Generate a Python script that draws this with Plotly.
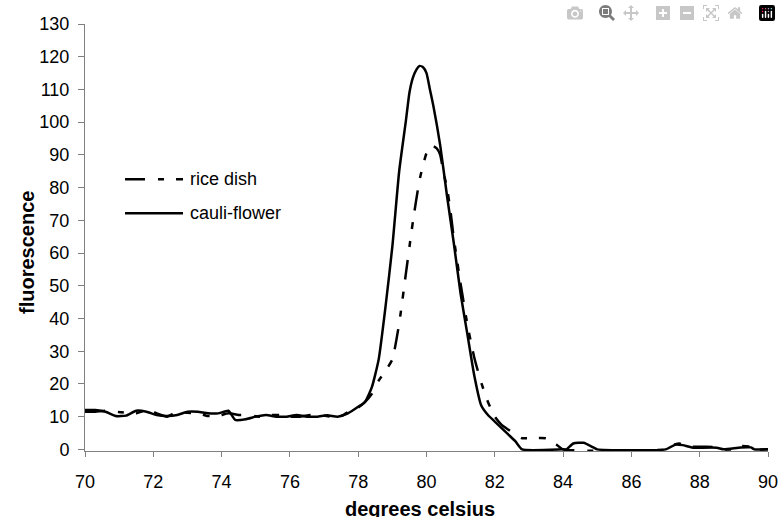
import plotly.graph_objects as go

# ---- data ----
cauli_x = [70.0, 70.3, 70.6, 70.9, 71.2, 71.5, 71.8, 72.1, 72.4, 72.7, 73.0, 73.3, 73.6, 73.9,
           74.2, 74.4, 74.7, 75.0, 75.3, 75.6, 75.9, 76.2, 76.5, 76.8, 77.1, 77.4, 77.7, 78.0,
           78.2, 78.4, 78.6, 78.8, 79.0, 79.2, 79.4, 79.5, 79.6, 79.7, 79.8, 79.9, 80.0, 80.1,
           80.2, 80.4, 80.6, 80.8,
           81.0, 81.2, 81.4, 81.6, 81.8, 82.0, 82.2, 82.4, 82.6, 82.8, 84.0, 84.1, 84.3, 84.6,
           84.9, 85.0, 87.0, 87.3, 87.5, 87.8, 88.0, 88.5, 88.7, 89.2, 89.5, 89.6, 90.0]
cauli_y = [12.0, 12.0, 11.5, 10.2, 10.3, 11.8, 11.5, 10.5, 10.2, 10.5, 11.5, 11.5, 11.0, 11.0,
           11.8, 9.0, 9.2, 10.0, 10.5, 10.0, 10.0, 10.5, 10.0, 10.0, 10.4, 10.0, 11.0, 13.0,
           14.5, 19.0, 27.5, 43.6, 62.0, 85.0, 100.7, 109.0, 113.5, 116.0, 117.2, 116.8, 115.0, 110.0,
           105.0, 93.0, 77.5, 63.0,
           47.5, 35.0, 22.5, 13.5, 10.5, 8.5, 6.5, 4.5, 2.5, 0.0, 0.0, 0.0, 1.8, 2.0,
           0.5, 0.0, 0.0, 1.5, 1.3, 0.5, 0.5, 0.5, 0.0, 0.6, 0.6, 0.0, 0.0]

rice_x = [70.0, 70.3, 70.6, 70.9, 71.2, 71.5, 71.8, 72.1, 72.4, 72.7, 73.0, 73.3, 73.6, 73.9,
          74.2, 74.5, 74.8, 75.1, 75.4, 75.7, 76.0, 76.3, 76.6, 76.9, 77.2, 77.5, 77.8, 78.0,
          78.2, 78.4, 78.6, 78.8, 79.0, 79.2, 79.4, 79.6, 79.8, 80.0, 80.15, 80.3, 80.4, 80.5,
          80.6, 80.7, 80.8, 81.0, 81.2, 81.4, 81.6, 81.8, 82.0, 82.2, 82.4, 82.6, 82.8, 83.0,
          83.5, 83.8, 84.0, 87.0, 87.2, 87.4, 87.6, 87.8, 88.2, 88.6, 88.7, 89.0, 89.2, 89.5,
          89.6, 90.0]
rice_y = [11.5, 11.5, 11.8, 11.5, 11.2, 11.0, 12.0, 11.0, 10.0, 11.5, 11.2, 11.0, 10.2, 10.2,
          11.0, 10.5, 10.5, 10.0, 10.5, 10.5, 10.0, 10.0, 10.5, 10.5, 10.0, 10.2, 12.0, 12.8,
          14.5, 17.0, 21.0, 24.0, 27.5, 38.5, 54.0, 69.5, 82.5, 90.5, 92.8, 92.0, 90.0, 84.5,
          80.0, 73.0, 64.5, 50.5, 38.0, 28.0, 20.5, 14.5, 10.0, 7.5, 6.0, 4.5, 3.4, 3.4,
          3.4, 1.5, 0.0, 0.0, 1.2, 1.8, 1.2, 0.8, 0.8, 0.6, 0.0, 0.0, 1.0, 0.8,
          0.0, 0.0]

series_names = ["rice dish", "cauli-flower"]
x_ticks = [70, 72, 74, 76, 78, 80, 82, 84, 86, 88, 90]
y_ticks = [0, 10, 20, 30, 40, 50, 60, 70, 80, 90, 100, 110, 120, 130]

FONT = "Liberation Sans, Arial, sans-serif"
DASH = "20px,13px,6px,12px,7px,12px"

fig = go.Figure()
fig.add_trace(go.Scatter(x=rice_x, y=rice_y, mode="lines", name=series_names[0],
                         line=dict(color="black", width=2.5, dash=DASH, shape="spline", smoothing=0.5)))
fig.add_trace(go.Scatter(x=cauli_x, y=cauli_y, mode="lines", name=series_names[1],
                         line=dict(color="black", width=2.5, shape="spline", smoothing=0.5)))

fig.update_layout(
    width=781, height=517,
    margin=dict(l=85, r=13, t=24, b=66),
    paper_bgcolor="white", plot_bgcolor="white",
    showlegend=False,
    font=dict(family=FONT, size=18, color="black"),
    xaxis=dict(range=[70, 90], tickvals=x_ticks, ticktext=[str(v) for v in x_ticks],
               showgrid=False, zeroline=False, showline=True, linecolor="#808080", linewidth=1,
               ticks="outside", ticklen=5, tickcolor="#808080", layer="below traces",
               ticklabelstandoff=9,
               automargin=False, tickfont=dict(size=18, family=FONT)),
    yaxis=dict(range=[-0.5, 130], tickvals=y_ticks, ticktext=[str(v) for v in y_ticks],
               showgrid=False, zeroline=False, showline=True, linecolor="#808080", linewidth=1,
               ticks="outside", ticklen=6, tickcolor="#808080", layer="below traces",
               ticklabelstandoff=5,
               automargin=False, tickfont=dict(size=18, family=FONT)),
)

# axis titles
fig.add_annotation(text="<b>fluorescence</b>", xref="paper", yref="paper", x=-0.0849, y=0.4637,
                   xanchor="center", yanchor="middle", textangle=-90, showarrow=False,
                   font=dict(size=20, family=FONT, color="black"))
fig.add_annotation(text="<b>degrees celsius</b>", xref="paper", yref="paper", x=0.4904, y=-0.1054,
                   xanchor="center", yanchor="top", showarrow=False,
                   font=dict(size=20, family=FONT, color="black"))

# manual legend
leg_y = [0.6363, 0.5567]
leg_dash = [DASH, "solid"]
for name, yy, dd in zip(series_names, leg_y, leg_dash):
    fig.add_shape(type="line", xref="paper", yref="paper", x0=0.0586, x1=0.1435, y0=yy, y1=yy,
                  line=dict(color="black", width=2.5, dash=dd))
    fig.add_annotation(text=name, xref="paper", yref="paper", x=0.1512, y=yy,
                       xanchor="left", yanchor="middle", showarrow=False,
                       font=dict(size=18, family=FONT, color="black"))

fig.write_html(
    "out.html",
    post_script="document.body.style.margin='0px';document.documentElement.style.overflow='hidden';",
)
